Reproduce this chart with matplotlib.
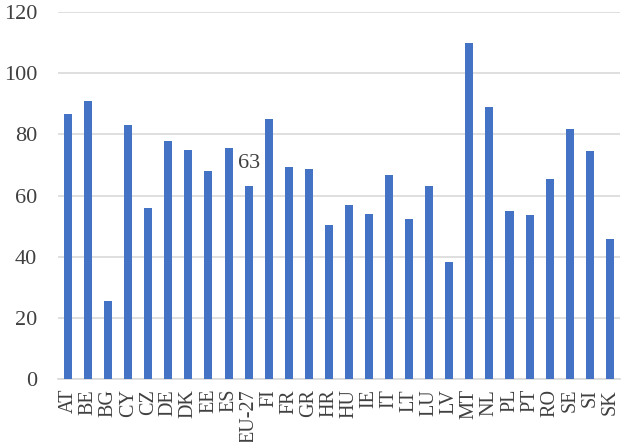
import numpy as np
import matplotlib
matplotlib.use("Agg")
import matplotlib.pyplot as plt

countries = ["AT", "BE", "BG", "CY", "CZ", "DE", "DK", "EE", "ES", "EU-27", "FI", "FR", "GR", "HR",
             "HU", "IE", "IT", "LT", "LU", "LV", "MT", "NL", "PL", "PT", "RO", "SE", "SI", "SK"]
values = [86.7, 90.8, 25.5, 83, 55.8, 77.8, 75, 68, 75.5, 63, 85, 69.2, 68.6, 50.3,
          56.8, 54, 66.8, 52.5, 63.2, 38.3, 110, 88.8, 55, 53.8, 65.3, 81.6, 74.6, 45.8]
highlight = "EU-27"
highlight_label = "63"

plt.rcParams['font.family'] = ['Liberation Serif', 'DejaVu Serif']

fig, ax = plt.subplots(figsize=(6.23, 4.42), dpi=100)
fig.subplots_adjust(left=0.093, right=0.995, top=0.973, bottom=0.142)

x = np.arange(len(countries))
ax.bar(x, values, width=0.4, color="#4472C4", zorder=3)

# data label over the EU average
i = countries.index(highlight)
ax.annotate(highlight_label, (x[i], values[i]), xytext=(0, 10), textcoords="offset points",
            ha="center", va="bottom", fontsize=16, color="#404040", zorder=4)

ax.set_ylim(0, 120)
ax.set_yticks(np.arange(0, 121, 20))
ax.set_xlim(-0.5, len(countries) - 0.5)
ax.set_xticks(x)
ax.set_xticklabels(countries, rotation=90)
ax.tick_params(axis="y", length=0, pad=15, labelsize=16, labelcolor="#404040")
ax.tick_params(axis="x", length=0, pad=7, labelsize=14.5, labelcolor="#404040")
ax.grid(axis="y", color="#D9D9D9", linewidth=1.2, zorder=0)
for s in ["top", "right", "left"]:
    ax.spines[s].set_visible(False)
ax.spines["bottom"].set_color("#D9D9D9")
ax.spines["bottom"].set_linewidth(1.2)

fig.savefig("out.png", dpi=100)
